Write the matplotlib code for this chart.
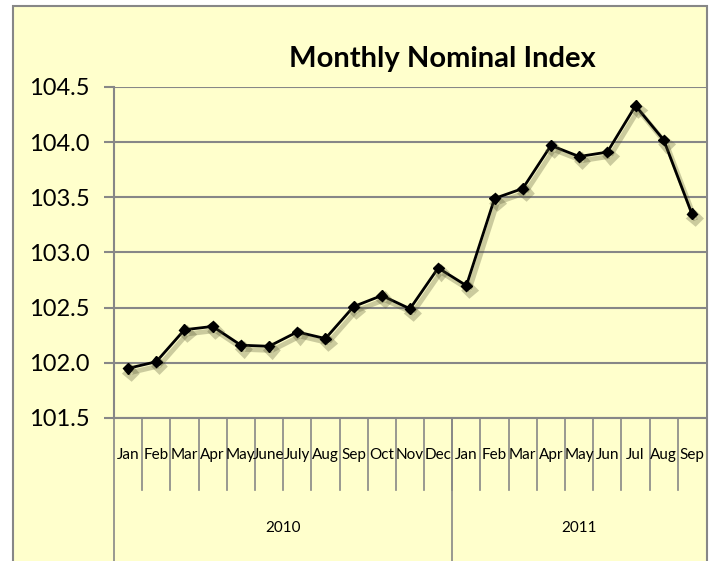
import matplotlib
matplotlib.use('Agg')
import matplotlib.pyplot as plt
import matplotlib.patheffects as pe
from matplotlib.patches import Rectangle

months = ['Jan', 'Feb', 'Mar', 'Apr', 'May', 'June', 'July', 'Aug', 'Sep', 'Oct', 'Nov', 'Dec',
          'Jan', 'Feb', 'Mar', 'Apr', 'May', 'Jun', 'Jul', 'Aug', 'Sep']
years = ['2010', '2011']
months_per_year = [12, 9]
index_values = [101.95, 102.01, 102.30, 102.33, 102.16, 102.15, 102.28, 102.22, 102.51, 102.61,
                102.49, 102.86, 102.70, 103.49, 103.58, 103.97, 103.87, 103.91, 104.33, 104.02, 103.35]

BG = '#FFFFCC'
GRID = '#878787'

plt.rcParams['font.family'] = ['Lato', 'DejaVu Sans']

W, H = 719, 561
fig = plt.figure(figsize=(W / 100, H / 100), dpi=100)
fig.patch.set_facecolor('white')

# chart area box
fig.patches.append(Rectangle((13 / W, -0.05), (707 - 13) / W, (H - 6) / H + 0.05,
                             transform=fig.transFigure, facecolor=BG, edgecolor=GRID,
                             linewidth=1.5, zorder=-5))

ax = fig.add_axes([114 / W, (H - 418) / H, (706 - 114) / W, (418 - 87) / H])
ax.set_facecolor(BG)

x = list(range(len(index_values)))
line, = ax.plot(x, index_values, color='black', linewidth=2, marker='D', markersize=5.5,
                zorder=3)
line.set_path_effects([pe.SimpleLineShadow(offset=(2, -3), shadow_color='#555533', alpha=0.3,
                                           linewidth=3.5),
                       pe.Normal()])

ax.set_xlim(-0.5, len(index_values) - 0.5)
ax.set_ylim(101.5, 104.5)
ax.set_yticks([101.5, 102.0, 102.5, 103.0, 103.5, 104.0, 104.5])
ax.set_yticklabels([f'{v:.1f}' for v in ax.get_yticks()], fontsize=17)
ax.yaxis.grid(True, color=GRID, linewidth=1.5)
ax.set_axisbelow(True)
ax.tick_params(axis='y', length=7, width=1.5, color=GRID, pad=10.5)
ax.set_xticks([])

for s in ['top', 'right']:
    ax.spines[s].set_visible(False)
for s in ['left', 'bottom']:
    ax.spines[s].set_color(GRID)
    ax.spines[s].set_linewidth(1.5)

ax.text(0.554, 1.06, 'Monthly Nominal Index', transform=ax.transAxes, ha='center',
        va='baseline', fontsize=21, fontweight='bold')

# category axis: month dividers, month labels, year dividers, year labels
tr = ax.get_xaxis_transform()
for i in range(1, len(months)):
    ax.plot([i - 0.5, i - 0.5], [0, -0.2175], transform=tr, color=GRID, linewidth=1.2,
            clip_on=False)
for i, m in enumerate(months):
    ax.text(i, -0.112, m, transform=tr, ha='center', va='center', fontsize=11)

start = 0
bounds = [-0.5]
for y, n in zip(years, months_per_year):
    ax.text(start + (n - 1) / 2, -0.332, y, transform=tr, ha='center', va='center',
            fontsize=11)
    start += n
    bounds.append(start - 0.5)
for b in bounds[:-1]:
    ax.plot([b, b], [0, -0.45], transform=tr, color=GRID, linewidth=1.2, clip_on=False)

fig.savefig('out.png', dpi=100, facecolor='white')
